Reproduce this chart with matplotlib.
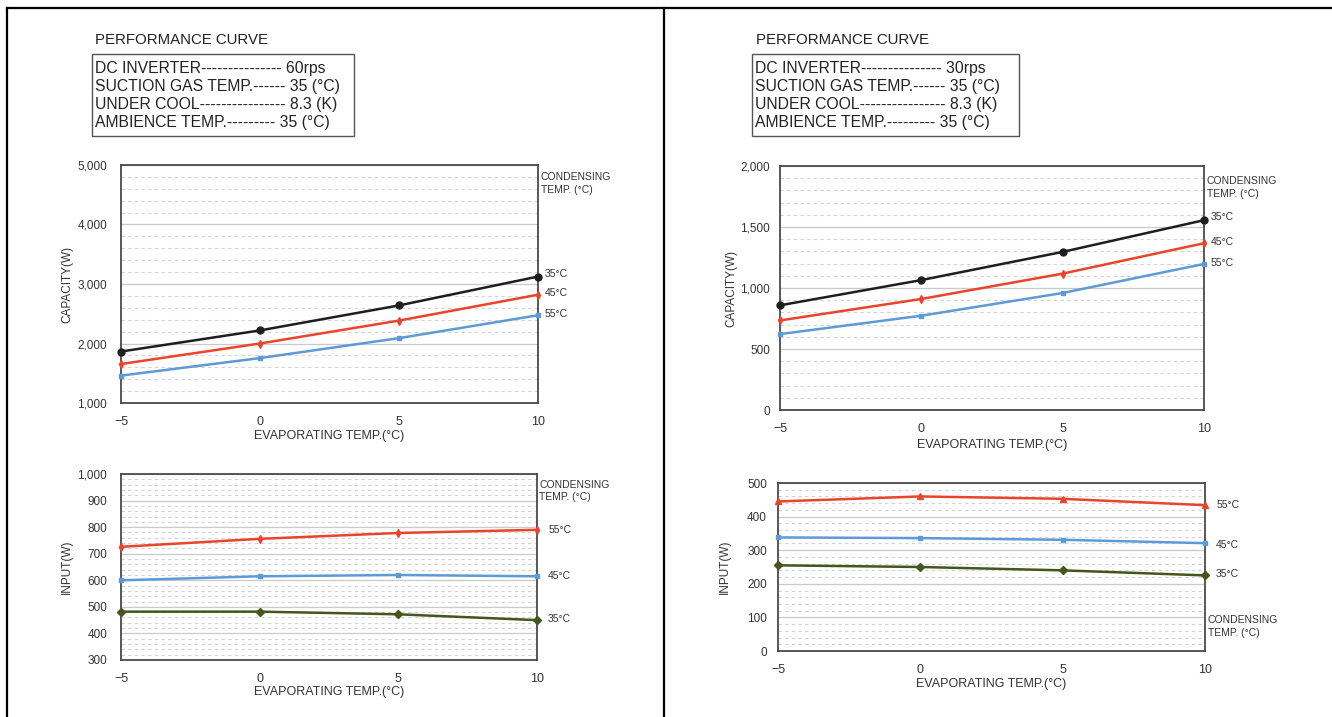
import matplotlib
matplotlib.use("Agg")
from matplotlib import pyplot as plt
from matplotlib.lines import Line2D
from matplotlib.patches import Rectangle
from matplotlib.ticker import FuncFormatter, MultipleLocator

plt.rcParams["font.family"] = ["Liberation Sans", "DejaVu Sans"]

# evaporating temperature (°C)
evap = [-5, 0, 5, 10]

# 60 rps, capacity (W) per condensing temp
cap60_35 = [1865, 2220, 2640, 3125]
cap60_45 = [1655, 2000, 2385, 2820]
cap60_55 = [1460, 1755, 2090, 2475]
# 60 rps, input (W)
inp60_55 = [726, 756, 778, 790]
inp60_45 = [600, 615, 620, 615]
inp60_35 = [482, 482, 472, 450]

# 30 rps, capacity (W)
cap30_35 = [858, 1065, 1296, 1556]
cap30_45 = [734, 910, 1118, 1367]
cap30_55 = [622, 773, 959, 1197]
# 30 rps, input (W)
inp30_55 = [445, 460, 453, 434]
inp30_45 = [338, 336, 331, 321]
inp30_35 = [255, 250, 240, 225]

cond_labels = ["35°C", "45°C", "55°C"]

info_60 = ["DC INVERTER--------------- 60rps",
           "SUCTION GAS TEMP.------ 35 (°C)",
           "UNDER COOL---------------- 8.3 (K)",
           "AMBIENCE TEMP.--------- 35 (°C)"]
info_30 = ["DC INVERTER--------------- 30rps",
           "SUCTION GAS TEMP.------ 35 (°C)",
           "UNDER COOL---------------- 8.3 (K)",
           "AMBIENCE TEMP.--------- 35 (°C)"]

BLACK = "#1e1e1e"
RED = "#e9442c"
BLUE = "#5d9bd6"
GREEN = "#44561c"

W, H = 1332, 717
fig = plt.figure(figsize=(W / 100, H / 100), dpi=100)


def fx(px):
    return px / W


def fy(py):
    return 1 - py / H


def make_axes(left, top, right, bottom):
    return fig.add_axes([fx(left), fy(bottom), fx(right) - fx(left), fy(top) - fy(bottom)])


def style_axes(ax, ylim, major, minor, ylabel, ylab_x, xlab_y, ypad):
    ax.set_xlim(-5, 10)
    ax.set_ylim(*ylim)
    ax.set_xticks(evap)
    ax.yaxis.set_major_locator(MultipleLocator(major))
    ax.yaxis.set_minor_locator(MultipleLocator(minor))
    ax.yaxis.set_major_formatter(FuncFormatter(lambda v, p: f"{int(v):,}"))
    ax.grid(axis="y", which="major", color="#c9c9c9", lw=0.9)
    ax.grid(axis="y", which="minor", color="#d2d2d2", lw=0.8, ls=(0, (3, 3)))
    ax.set_axisbelow(True)
    ax.tick_params(axis="both", which="both", length=0)
    ax.tick_params(axis="y", labelsize=8.5, pad=ypad, colors="#333333")
    ax.tick_params(axis="x", labelsize=9, pad=9.5, colors="#333333")
    for s in ax.spines.values():
        s.set_color("#4a4a4a")
        s.set_linewidth(1.3)
    ax.set_ylabel(ylabel, fontsize=8.5, color="#333333")
    ax.set_xlabel("EVAPORATING TEMP.(°C)", fontsize=9, color="#333333")
    ax.yaxis.set_label_coords(ylab_x, 0.5)
    ax.xaxis.set_label_coords(0.5, xlab_y)


def draw_series(ax, series, offsets):
    for (ys, color, marker, ms, lab), off in zip(series, offsets):
        ax.plot(evap, ys, color=color, lw=1.8, marker=marker, ms=ms,
                markeredgecolor=color, markerfacecolor=color, clip_on=False, zorder=3)
        ax.annotate(lab, xy=(evap[-1], ys[-1]), xytext=off, textcoords="offset points",
                    fontsize=7.5, color="#333333", va="center", ha="left",
                    annotation_clip=False)


def condensing(ax, y):
    ax.text(1.006, y, "CONDENSING\nTEMP. (°C)", transform=ax.transAxes, fontsize=7.5,
            color="#333333", ha="left", va="top", linespacing=1.35)


def info_block(x_title, x_box, x_box2, lines):
    fig.text(fx(x_title), fy(40), "PERFORMANCE CURVE", fontsize=10.8, color="#222222",
             ha="left", va="center")
    fig.add_artist(Rectangle((fx(x_box), fy(136)), fx(x_box2) - fx(x_box), fy(54) - fy(136),
                             transform=fig.transFigure, fill=False, ec="#555555", lw=1.0))
    for i, line in enumerate(lines):
        fig.text(fx(x_box + 3), fy(68 + 18 * i), line, fontsize=11.3, color="#222222",
                 ha="left", va="center")


# ---- left panel: 60 rps ----
info_block(95, 92, 354, info_60)

ax1 = make_axes(121, 165, 538, 403)
style_axes(ax1, (1000, 5000), 1000, 200, "CAPACITY(W)", -0.115, -0.115, 10)
draw_series(ax1, [(cap60_35, BLACK, "o", 5, cond_labels[0]),
                  (cap60_45, RED, "d", 4, cond_labels[1]),
                  (cap60_55, BLUE, "s", 3.5, cond_labels[2])],
            [(5, 2), (5, 1), (5, 1)])
condensing(ax1, 0.97)

ax2 = make_axes(121, 474, 537, 660)
style_axes(ax2, (300, 1000), 100, 20, "INPUT(W)", -0.115, -0.14, 10)
draw_series(ax2, [(inp60_55, RED, "d", 4, cond_labels[2]),
                  (inp60_45, BLUE, "s", 3.5, cond_labels[1]),
                  (inp60_35, GREEN, "D", 4, cond_labels[0])],
            [(8, 0), (8, 0), (8, 1)])
condensing(ax2, 0.97)

# ---- right panel: 30 rps ----
info_block(756, 752, 1019, info_30)

ax3 = make_axes(780, 166, 1204, 410)
style_axes(ax3, (0, 2000), 500, 100, "CAPACITY(W)", -0.1, -0.12, 7)
draw_series(ax3, [(cap30_35, BLACK, "o", 5, cond_labels[0]),
                  (cap30_45, RED, "d", 4, cond_labels[1]),
                  (cap30_55, BLUE, "s", 3.5, cond_labels[2])],
            [(5, 2), (5, 1), (5, 1)])
condensing(ax3, 0.96)

ax4 = make_axes(778, 483, 1205, 651)
style_axes(ax4, (0, 500), 100, 20, "INPUT(W)", -0.11, -0.16, 8)
draw_series(ax4, [(inp30_55, RED, "^", 4, cond_labels[2]),
                  (inp30_45, BLUE, "s", 3.5, cond_labels[1]),
                  (inp30_35, GREEN, "D", 4, cond_labels[0])],
            [(8, 0), (8, -1), (8, 1)])
condensing(ax4, 0.215)

# outer frame of the sheet
for xs, ys in [((7, W), (8, 8)), ((7, 7), (8, H)), ((664, 664), (8, H))]:
    fig.add_artist(Line2D([fx(x) for x in xs], [fy(y) for y in ys],
                          transform=fig.transFigure, color="black", lw=1.6))

fig.savefig("out.png", dpi=100, facecolor="white")
